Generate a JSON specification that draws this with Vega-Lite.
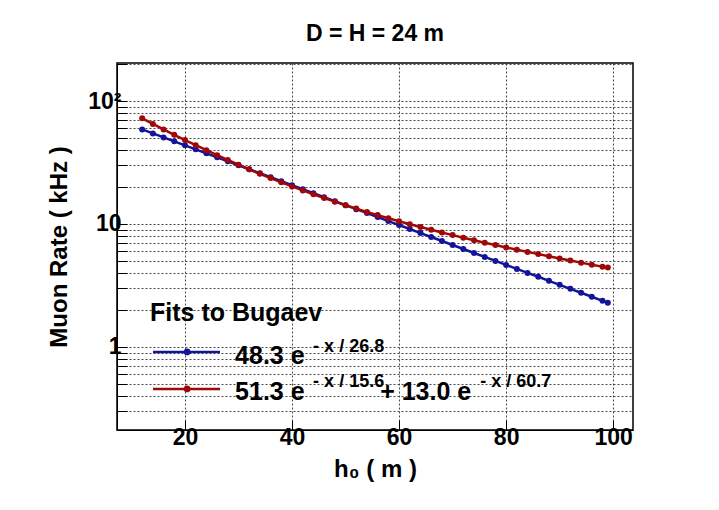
{
  "$schema": "https://vega.github.io/schema/vega-lite/v6.json",
  "autosize": {"type": "none"},
  "padding": {"left": 117, "top": 63, "right": 86, "bottom": 80},
  "width": 516,
  "height": 367,
  "background": "white",
  "config": {
    "font": "Liberation Sans",
    "view": {"stroke": "black", "strokeWidth": 1.5},
    "axis": {
      "labelFont": "Liberation Sans", "labelFontWeight": "bold", "labelFontSize": 23, "labelColor": "black",
      "titleFont": "Liberation Sans", "titleFontWeight": "bold", "titleFontSize": 24, "titleColor": "black",
      "domainColor": "black", "tickColor": "black", "tickSize": -10,
      "gridColor": "#333", "gridDash": [2, 2], "gridWidth": 0.9
    }
  },
  "title": {"text": "D = H = 24 m", "fontSize": 23, "fontWeight": "bold", "font": "Liberation Sans", "offset": 17, "color": "black"},
  "datasets": {
    "curves": [
      {"x": 12, "blue": 58.79, "red": 72.32}, {"x": 14, "blue": 54.56, "red": 65.17}, {"x": 16, "blue": 50.64, "red": 58.83},
      {"x": 18, "blue": 47.00, "red": 53.20}, {"x": 20, "blue": 43.62, "red": 48.20}, {"x": 22, "blue": 40.48, "red": 43.76},
      {"x": 24, "blue": 37.57, "red": 39.82}, {"x": 26, "blue": 34.87, "red": 36.30}, {"x": 28, "blue": 32.36, "red": 33.16},
      {"x": 30, "blue": 30.03, "red": 30.36}, {"x": 32, "blue": 27.87, "red": 27.86}, {"x": 34, "blue": 25.87, "red": 25.63},
      {"x": 36, "blue": 24.01, "red": 23.62}, {"x": 38, "blue": 22.28, "red": 21.83}, {"x": 40, "blue": 20.68, "red": 20.21},
      {"x": 42, "blue": 19.19, "red": 18.75}, {"x": 44, "blue": 17.81, "red": 17.44}, {"x": 46, "blue": 16.53, "red": 16.26},
      {"x": 48, "blue": 15.34, "red": 15.19}, {"x": 50, "blue": 14.24, "red": 14.22}, {"x": 52, "blue": 13.21, "red": 13.34},
      {"x": 54, "blue": 12.26, "red": 12.53}, {"x": 56, "blue": 11.38, "red": 11.81}, {"x": 58, "blue": 10.56, "red": 11.14},
      {"x": 60, "blue": 9.80, "red": 10.52}, {"x": 62, "blue": 9.10, "red": 9.96}, {"x": 64, "blue": 8.44, "red": 9.44},
      {"x": 66, "blue": 7.84, "red": 8.97}, {"x": 68, "blue": 7.27, "red": 8.52}, {"x": 70, "blue": 6.75, "red": 8.12},
      {"x": 72, "blue": 6.26, "red": 7.74}, {"x": 74, "blue": 5.81, "red": 7.38}, {"x": 76, "blue": 5.40, "red": 7.05},
      {"x": 78, "blue": 5.01, "red": 6.74}, {"x": 80, "blue": 4.65, "red": 6.45}, {"x": 82, "blue": 4.31, "red": 6.18},
      {"x": 84, "blue": 4.00, "red": 5.93}, {"x": 86, "blue": 3.72, "red": 5.69}, {"x": 88, "blue": 3.45, "red": 5.46},
      {"x": 90, "blue": 3.20, "red": 5.25}, {"x": 92, "blue": 2.97, "red": 5.04}, {"x": 94, "blue": 2.76, "red": 4.85},
      {"x": 96, "blue": 2.56, "red": 4.67}, {"x": 98, "blue": 2.37, "red": 4.50}, {"x": 99, "blue": 2.29, "red": 4.42}
    ],
    "legendLines": [
      {"x": 14.03, "y": 0.911, "fit": "blue"}, {"x": 26.55, "y": 0.911, "fit": "blue"},
      {"x": 14.03, "y": 0.4556, "fit": "red"}, {"x": 26.55, "y": 0.4556, "fit": "red"}
    ],
    "legendDots": [
      {"x": 20.4, "y": 0.911, "fit": "blue"}, {"x": 20.4, "y": 0.4556, "fit": "red"}
    ],
    "legendMain": [
      {"x": 13.47, "y": 1.89, "t": "Fits to Bugaev"},
      {"x": 29.36, "y": 0.845, "t": "48.3 e"},
      {"x": 29.36, "y": 0.43, "t": "51.3 e"},
      {"x": 56.46, "y": 0.43, "t": "+ 13.0 e"}
    ],
    "legendSup": [
      {"x": 43.94, "y": 1.0, "t": "- x / 26.8"},
      {"x": 43.94, "y": 0.519, "t": "- x / 15.6"},
      {"x": 75.15, "y": 0.519, "t": "- x / 60.7"}
    ]
  },
  "layer": [
    {
      "data": {"name": "curves"},
      "transform": [{"fold": ["blue", "red"], "as": ["fit", "rate"]}],
      "encoding": {
        "x": {"field": "x", "type": "quantitative", "title": "h₀ ( m )",
          "scale": {"domain": [7.3, 103.7], "nice": false, "zero": false},
          "axis": {"values": [20, 40, 60, 80, 100], "grid": true, "titlePadding": 8, "labelPadding": 6}},
        "y": {"field": "rate", "type": "quantitative", "title": "Muon Rate ( kHz )",
          "scale": {"type": "log", "domain": [0.211, 204], "nice": false},
          "axis": {"values": [0.3, 0.4, 0.5, 0.6, 0.7, 0.8, 0.9, 1, 2, 3, 4, 5, 6, 7, 8, 9, 10, 20, 30, 40, 50, 60, 70, 80, 90, 100, 200],
            "labelExpr": "datum.value == 100 ? '10²' : (datum.value == 10 || datum.value == 1) ? datum.label : ''",
            "grid": true, "titlePadding": 16, "labelPadding": 6}},
        "color": {"field": "fit", "type": "nominal", "scale": {"domain": ["blue", "red"], "range": ["#14149a", "#a00808"]}, "legend": null}
      },
      "layer": [
        {"mark": {"type": "line", "strokeWidth": 2.5}},
        {"mark": {"type": "circle", "size": 36, "opacity": 1}}
      ]
    },
    {
      "data": {"name": "legendLines"},
      "mark": {"type": "line", "strokeWidth": 2.5},
      "encoding": {
        "x": {"field": "x", "type": "quantitative"},
        "y": {"field": "y", "type": "quantitative"},
        "detail": {"field": "fit"},
        "color": {"field": "fit", "type": "nominal", "legend": null}
      }
    },
    {
      "data": {"name": "legendDots"},
      "mark": {"type": "circle", "size": 45, "opacity": 1},
      "encoding": {
        "x": {"field": "x", "type": "quantitative"},
        "y": {"field": "y", "type": "quantitative"},
        "color": {"field": "fit", "type": "nominal", "legend": null}
      }
    },
    {
      "data": {"name": "legendMain"},
      "mark": {"type": "text", "align": "left", "baseline": "middle", "fontSize": 25, "fontWeight": "bold", "font": "Liberation Sans", "color": "black"},
      "encoding": {
        "x": {"field": "x", "type": "quantitative"},
        "y": {"field": "y", "type": "quantitative"},
        "text": {"field": "t"}
      }
    },
    {
      "data": {"name": "legendSup"},
      "mark": {"type": "text", "align": "left", "baseline": "middle", "fontSize": 18, "fontWeight": "bold", "font": "Liberation Sans", "color": "black"},
      "encoding": {
        "x": {"field": "x", "type": "quantitative"},
        "y": {"field": "y", "type": "quantitative"},
        "text": {"field": "t"}
      }
    }
  ]
}
